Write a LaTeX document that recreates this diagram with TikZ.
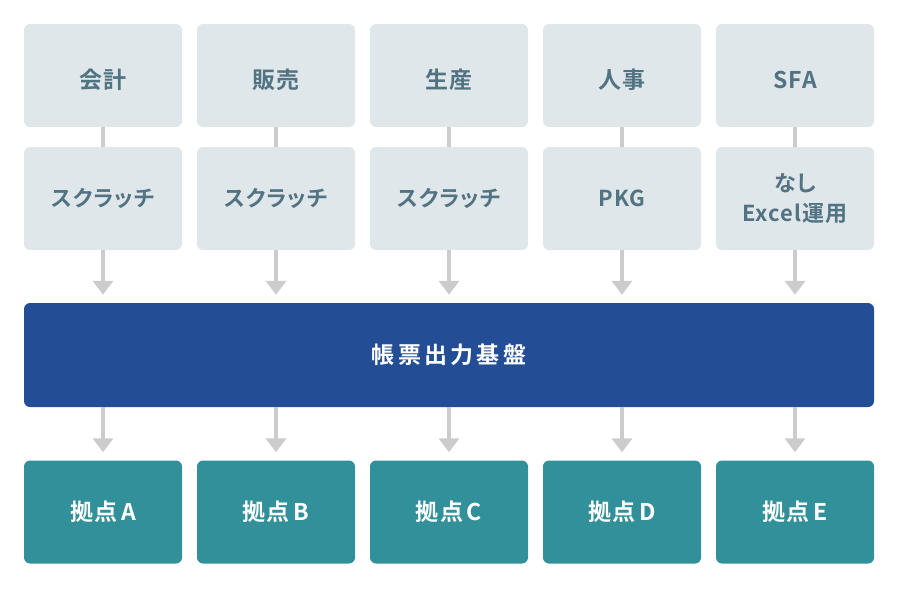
\documentclass[tikz,border=0pt]{standalone}
\usepackage{fontspec}
\setmainfont{Noto Sans CJK JP}[BoldFont={Noto Sans CJK JP Bold}]
\newfontfamily\labeljp{Noto Sans CJK JP Bold}[RawFeature=+palt,LetterSpace=5]
\newfontfamily\widejp{Noto Sans CJK JP Bold}[RawFeature=+palt,LetterSpace=14]
\usetikzlibrary{arrows.meta}

\definecolor{boxgray}{HTML}{E0E7EB}
\definecolor{textgray}{HTML}{527382}
\definecolor{barblue}{HTML}{234D95}
\definecolor{siteteal}{HTML}{31909A}
\definecolor{linkgray}{HTML}{CCCCCC}

\begin{document}
\begin{tikzpicture}[x=1pt,y=-1pt,
    card/.style={rectangle,rounded corners=6pt,minimum width=158pt,minimum height=103pt,
        inner sep=0pt,align=center},
    sysbox/.style={card,fill=boxgray,text=textgray,font=\labeljp\fontsize{23}{30}\selectfont},
    toolbox/.style={sysbox,font=\labeljp\fontsize{22}{30}\selectfont},
    sitebox/.style={card,fill=siteteal,text=white,font=\labeljp\fontsize{23}{30}\selectfont},
    link/.style={draw=linkgray,line width=4.5pt},
    flow/.style={link,-{Triangle[width=20pt,length=14pt]},shorten >=8pt}]
\useasboundingbox (0,0) rectangle (900,590);

% Systems
\foreach \sys [count=\i] in {会計,販売,生産,人事,SFA} {
    \node[sysbox] (sys\i) at (103+173*\i-173, 75.5) {\raisebox{0pt}[\dimexpr\height+9pt\relax]{\sys}};
}

% Tools
\foreach \tool [count=\i] in {スクラッチ,スクラッチ,スクラッチ,PKG,{なし\\Excel運用}} {
    \node[toolbox] (tool\i) at (103+173*\i-173, 198.5) {\tool};
}

% Output platform
\node[card,minimum width=850pt,minimum height=104pt,fill=barblue,text=white,
    font=\widejp\fontsize{23}{26}\selectfont] (bar) at (449, 355) {帳票出力基盤};

% Sites
\foreach \site [count=\i] in {A,B,C,D,E} {
    \node[sitebox] (site\i) at (103+173*\i-173, 512) {拠点\,\site};
}

% Links
\foreach \i in {1,...,5} {
    \draw[link] (sys\i) -- (tool\i);
    \draw[flow] (tool\i.south) -- (tool\i.south |- bar.north);
    \draw[flow] (site\i.north |- bar.south) -- (site\i.north);
}
\end{tikzpicture}
\end{document}
